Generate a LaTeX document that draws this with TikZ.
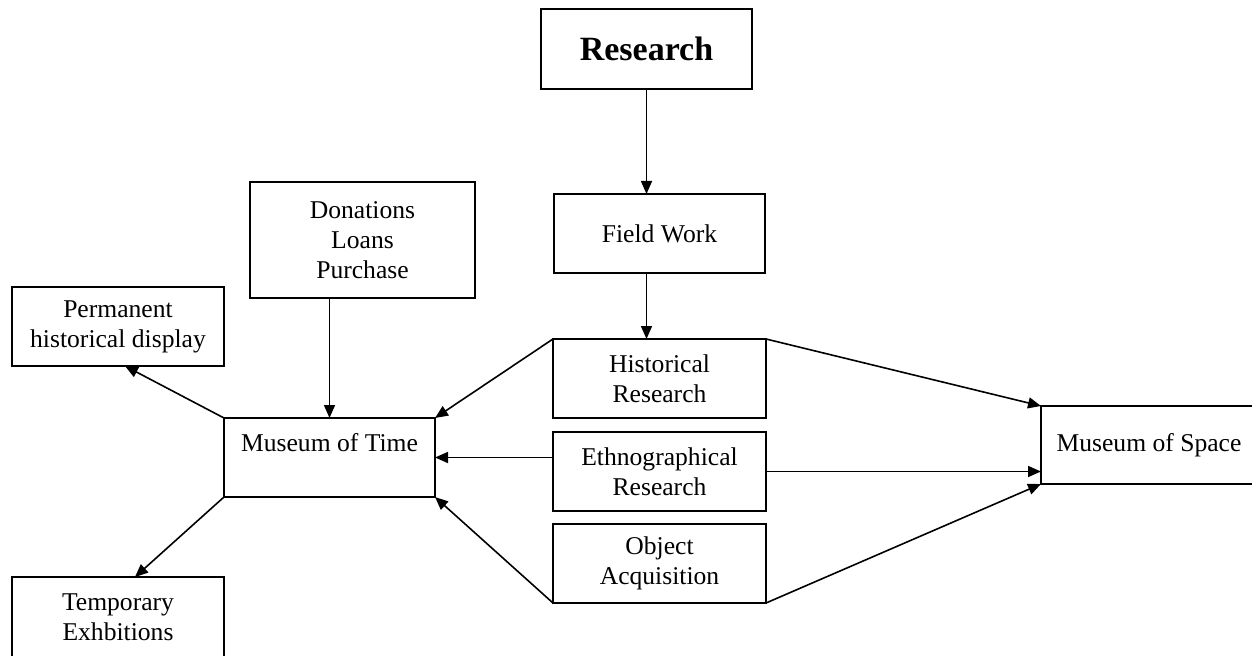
\documentclass[tikz,border=0pt]{standalone}
\usepackage{fontspec}
\setmainfont{Liberation Serif}
\usetikzlibrary{arrows.meta}

\tikzset{
  box/.style={draw, line width=0.75pt, rectangle, align=center, inner sep=0pt, outer sep=0pt,
    font=\fontsize{12.8bp}{15bp}\selectfont},
  arr/.style={line width=0.8pt, -{Triangle[length=6.5bp,width=5.5bp]}}
}

\begin{document}
\begin{tikzpicture}[x=0.5bp,y=-0.5bp]
        \useasboundingbox (0,0) rectangle (1252,655);
        \node[box, minimum width=105.5bp, minimum height=40bp, font=\fontsize{17bp}{20bp}\selectfont\bfseries] (research) at (646.5,49) {Research}; %上
        \node[box, minimum width=105.5bp, minimum height=39.5bp] (field) at (659.5,233.5) {Field Work};
        \node[box, minimum width=106.5bp, minimum height=39.5bp] (hist) at (659.5,378.5) {Historical\\Research};
        \node[box, minimum width=106.5bp, minimum height=39.5bp] (ethno) at (659.5,471.5) {Ethnographical\\Research};
        \node[box, minimum width=106.5bp, minimum height=39.5bp] (obj) at (659.5,563.5) {Object\\Acquisition};
        \node[box, minimum width=112.5bp, minimum height=58bp] (don) at (362.5,240) {Donations\\Loans\\Purchase};
        \node[box, minimum width=106bp, minimum height=39.5bp] (perm) at (118,326.5) {Permanent\\historical display};
        \node[box, minimum width=105.5bp, minimum height=39.5bp] (mtime) at (329.5,457.5) {Museum of Time\\\mbox{}}; %左
        \node[box, minimum width=106bp, minimum height=40bp] (temp) at (118,617) {Temporary\\Exhbitions};
        \node[box, minimum width=108bp, minimum height=39bp] (mspace) at (1149,445) {Museum of Space}; %右
        \draw[arr] (research.south) -- (research.south |- field.north);
        \draw[arr] (research.south |- field.south) -- (research.south |- hist.north);
        \draw[arr] (don.south -| mtime.north) -- (mtime.north);
        \draw[arr] (mtime.north west) -- ([xshift=3.5bp]perm.south);
        \draw[arr] (mtime.south west) -- ([xshift=8.5bp]temp.north);
        \draw[arr] (hist.north west) -- (mtime.north east);
        \draw[arr] (ethno.west |- mtime.east) -- (mtime.east);
        \draw[arr] (obj.south west) -- (mtime.south east);
        \draw[arr] (hist.north east) -- (mspace.north west);
        \draw[arr] (ethno.east) -- (mspace.west |- ethno.east);
        \draw[arr] (obj.south east) -- (mspace.south west);
\end{tikzpicture}
\end{document}
